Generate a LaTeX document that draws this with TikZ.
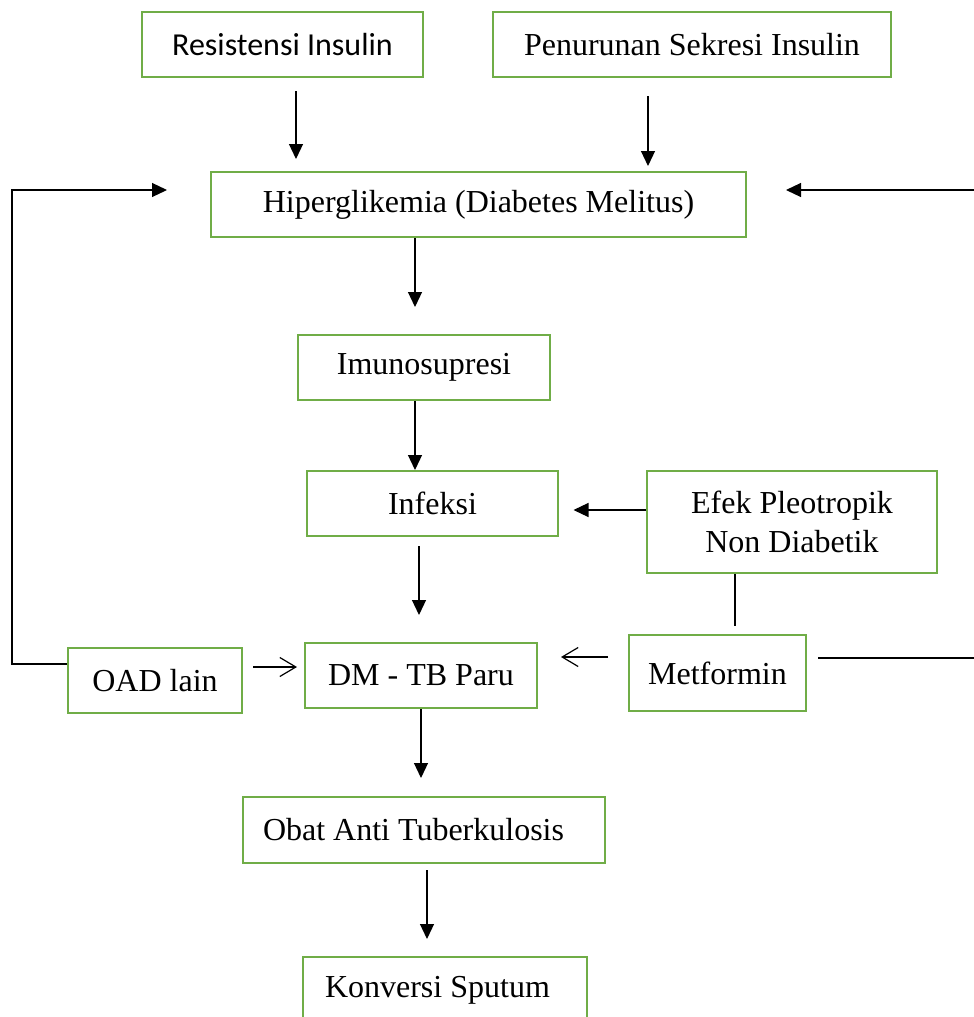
\documentclass[tikz,border=0pt]{standalone}
\usepackage{fontspec}
\setmainfont{Liberation Serif}
\newfontfamily\calibri{Carlito}
\usepackage{xcolor}
\usetikzlibrary{arrows.meta}
\definecolor{boxgreen}{HTML}{70AD47}

\begin{document}
\begin{tikzpicture}[x=0.5pt, y=-0.5pt,
    box/.style={draw=boxgreen, line width=1pt, inner sep=0pt, minimum height=32.5pt,
        font=\fontsize{16}{19.5}\selectfont},
    arr/.style={line width=0.6pt, -{Triangle[length=7.5pt, width=7pt]}},
    open/.style={line width=0.6pt, -{Straight Barb[length=8pt, width=9.5pt]}}]
        \useasboundingbox (0,0) rectangle (974,1017);
        \clip (0,0) rectangle (974,1017);

        % Draw boxes
        \node[box, minimum width=140.5pt, font=\fontsize{16}{19.5}\calibri] (resist) at (282.5,44.5) {Resistensi Insulin};
        \node[box, minimum width=199pt] (sekresi) at (692,44.5) {Penurunan Sekresi Insulin};
        \node[box, minimum width=267.5pt] (hiper) at (478.5,204.5) {Hiperglikemia (Diabetes Melitus)};
        \node[box, minimum width=126pt] (imuno) at (424,367.5) {Imunosupresi};
        \node[box, minimum width=125.5pt] (infeksi) at (432.5,503.5) {Infeksi};
        \node[box, minimum width=145pt, minimum height=51pt, align=center] (efek) at (792,522) {Efek Pleotropik\\Non Diabetik};
        \node[box, minimum width=87pt] (oad) at (155,680.5) {OAD lain};
        \node[box, minimum width=116pt] (dmtb) at (421,675.5) {DM - TB Paru};
        \node[box, minimum width=88.5pt, minimum height=38pt] (metf) at (717.5,673) {Metformin};
        \node[box, text width=161pt, inner xsep=10pt, minimum height=33pt, align=flush left] (oat) at (424,830) {Obat Anti Tuberkulosis};
        \node[box, text width=120pt, inner xsep=11pt, minimum height=33pt, align=flush left] (sputum) at (445,990) {Konversi Sputum};

        % Draw main arrows
        \draw[arr, shorten <=6.5pt, shorten >=6pt] ([xshift=6.75pt]resist.south) -- ([xshift=-91.25pt]hiper.north);
        \draw[arr, shorten <=9pt, shorten >=2.5pt] ([xshift=-22pt]sekresi.south) -- ([xshift=84.75pt]hiper.north);
        \draw[arr, shorten >=13.5pt] ([xshift=-31.75pt]hiper.south) -- ([xshift=-4.5pt]imuno.north);
        \draw[arr] ([xshift=-4.5pt]imuno.south) -- ([xshift=-8.75pt]infeksi.north);
        \draw[arr, shorten <=4.5pt, shorten >=13.5pt] ([xshift=-6.75pt]infeksi.south) -- ([xshift=-1pt]dmtb.north);
        \draw[arr, shorten >=9pt] (dmtb.south) -- ([xshift=-1.5pt]oat.north);
        \draw[arr, shorten <=3pt, shorten >=8.5pt] ([xshift=1.5pt]oat.south) -- ([xshift=-9pt]sputum.north);

        % Pleotropic effect
        \draw[arr, shorten >=7.25pt] ([yshift=6pt]efek.west) -- ([yshift=-3.25pt]infeksi.east);
        \draw[line width=0.6pt, shorten >=4pt] ([xshift=-28.5pt]efek.south) -- ([xshift=8.75pt]metf.north);

        % Drugs into DM - TB
        \draw[open, shorten <=10pt, shorten >=11.5pt] ([yshift=8pt]metf.west) -- ([yshift=9.25pt]dmtb.east);
        \draw[open, shorten <=5pt, shorten >=3.5pt] ([yshift=6.75pt]oad.east) -- ([yshift=4.25pt]dmtb.west);

        % Feedback to hyperglycemia
        \coordinate (lc) at (12,190);
        \coordinate (rc) at (990,190);
        \draw[arr, shorten >=21.5pt] ([yshift=8.25pt]oad.west) -| (lc) -- ([yshift=7.25pt]hiper.west);
        \draw[arr, shorten <=5.5pt, shorten >=19.5pt] ([yshift=7.5pt]metf.east) -| (rc) -- ([yshift=7.25pt]hiper.east);
    \end{tikzpicture}
\end{document}
